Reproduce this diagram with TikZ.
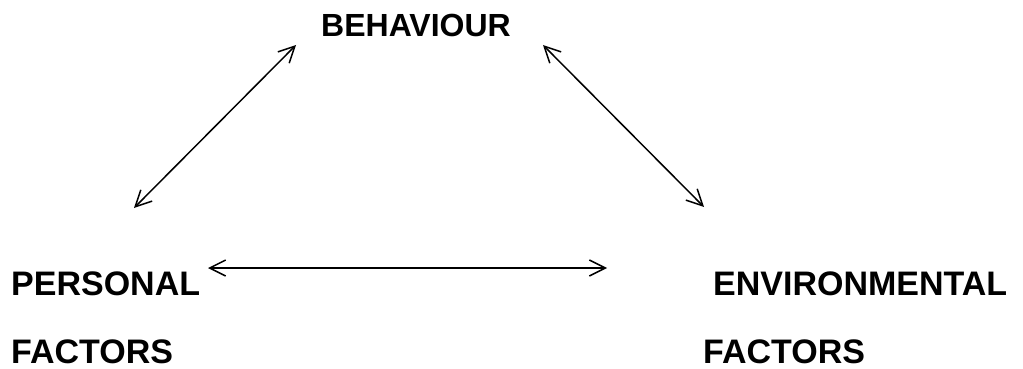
\documentclass[tikz,border=0pt]{standalone}
\usepackage{fontspec}
\setmainfont{Liberation Sans}
\usepackage{tikz}
\usetikzlibrary{arrows.meta,positioning}

\tikzset{
  factor/.style={anchor=base west,inner sep=0pt,font=\fontsize{34}{40}\selectfont\bfseries},
  link/.style={{Straight Barb[length=16pt,width=16pt]}-{Straight Barb[length=16pt,width=16pt]},line width=1.5pt}
}

\begin{document}
\begin{tikzpicture}[x=1pt,y=-1pt]
\useasboundingbox (0,0) rectangle (1023,369);
% the three factors
\foreach \t/\nm/\xx/\yy in {PERSONAL/pers/11/295,FACTORS/persf/11/363,ENVIRONMENTAL/envir/713/295,FACTORS/envirf/703/363}{
  \node[factor] (\nm) at (\xx,\yy) {\t};
}
\node[factor,font=\fontsize{32}{38}\selectfont\bfseries] (behav) at (321,37) {BEHAVIOUR};
% arrow ends
\coordinate (pb) at (134,208);
\coordinate (bp) at (296,45);
\coordinate (be) at (543,45);
\coordinate (eb) at (704,207);
\coordinate (pe) at (208,268);
\coordinate (ep) at (607,268);
\draw[link] (pb) -- (bp);
\draw[link] (be) -- (eb);
\draw[link] (pe) -- (ep);
\end{tikzpicture}
\end{document}
